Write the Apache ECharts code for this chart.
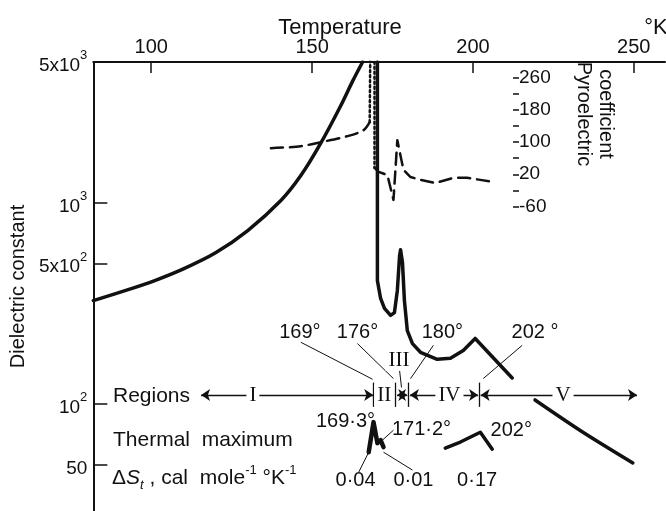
<!DOCTYPE html>
<html>
<head>
<meta charset="utf-8">
<script src="https://cdn.jsdelivr.net/npm/echarts@6/dist/echarts.min.js"></script>
<style>
  html, body { margin: 0; padding: 0; background: #fff; }
  #chart { width: 666px; height: 511px; }
</style>
</head>
<body>
<div id="chart"></div>
<script>
// axis ticks
const tempTicks = [100, 150, 200, 250]
const dielTicks = [50, 100, 500, 1000, 5000]
const pyroTicks = [-60, -20, 20, 60, 100, 140, 180, 220, 260]
const pyroLabels = [260, 180, 100, 20, -60]

// dielectric constant vs temperature (K)
const dielLow = [[82, 327], [93.8, 375], [100.9, 410], [110, 470], [120, 565], [130, 728], [140.3, 1026],
  [146.5, 1365], [152.7, 1977], [158.9, 3034], [162.6, 4018], [165.7, 5000]]
const dielHigh = [[170.3, 5000], [170.3, 411], [171.3, 335], [172.5, 299], [174.4, 276], [175.6, 285],
  [176.5, 367], [177.2, 547], [177.5, 585], [178.1, 505], [178.7, 327], [179.6, 232], [181.2, 200],
  [183.7, 181], [188.9, 167], [193, 169], [197, 185], [200.7, 212], [212.2, 135]]
const dielTail = [[219.3, 105], [234.2, 72.6], [249.7, 51.1]]

// pyroelectric coefficient
const pyroBelow = [[137.2, 85], [146.5, 90], [152.7, 100], [161, 115], [166, 130], [167.9, 150]]
const pyroJump = [[167.9, 150], [168.2, 420], [169.4, 420], [169.4, 36]]
const pyroAbove = [[169.4, 36], [170.7, 26], [173.4, 18], [175.3, -44], [176.5, 105], [178.4, 31],
  [180.6, 13], [183.7, 6], [188.3, -2], [193.9, 11], [198.2, 11], [202.3, 6], [206.3, 1]]

// thermal maxima (schematic, drawn on the same scales)
const thermal169 = [[167.6, 57.8], [169.1, 81.5], [170.3, 64.1], [171.3, 66.4], [172.2, 61.2]]
const thermal202 = [[191.4, 60.5], [196.1, 64.9], [202.3, 72.6], [206, 59.8]]

// regions row
const regionRow = 111
const regionBounds = [169, 176, 180, 202]
const regionArrows = [[115.5, 169], [176.4, 179.6], [180.4, 201.6], [202.4, 251]]
const regionNames = [['I', 131.6, 111], ['II', 172.4, 111], ['III', 177, 165], ['IV', 192.7, 111], ['V', 228, 111]]

// annotations: [text, T, value]
const tempNotes = [['169°', 146.2, 227], ['176°', 164.1, 227], ['180°', 190.5, 227], ['202 °', 219.3, 227]]
const thermalNotes = [['169·3°', 160.4, 82], ['171·2°', 184, 75], ['202°', 211.9, 74]]
const entropyNotes = [['0·04', 163.5, 41.6], ['0·01', 181.5, 41.6], ['0·17', 201.3, 41.6]]
const leaders = [
  [[146.5, 203], [168.8, 133]],
  [[164.1, 200], [175.3, 134]],
  [[187.7, 196], [180.6, 134]],
  [[215.3, 196], [203.2, 134]],
  [[177.2, 147], [177.8, 121]],
  [[175.3, 74.3], [171.9, 66.4]],
  [[164.5, 46], [167.6, 57.8]],
  [[181.2, 47.1], [172.2, 57.8]]
]

const FONT = '"Liberation Sans", Arial, sans-serif'
const SERIF = '"Liberation Serif", "Times New Roman", serif'
const INK = '#111'

const chart = echarts.init(document.getElementById('chart'))

function lineSeries(name, data, width, type, yIdx, smooth) {
  return {
    name, type: 'line', data, yAxisIndex: yIdx || 0, showSymbol: false, symbol: 'none',
    silent: true, animation: false, smooth: smooth || false,
    lineStyle: { color: INK, width, type: type || 'solid', cap: 'round', join: 'round' }
  }
}

function notes(name, items, font, size, bg) {
  return {
    name, type: 'scatter', symbolSize: 1, silent: true, animation: false, z: 6,
    itemStyle: { color: 'rgba(0,0,0,0)', opacity: 1 },
    data: items.map(d => ({ name: d[0], value: [d[1], d[2]] })),
    label: {
      show: true, position: 'inside', formatter: '{b}', color: INK, opacity: 1,
      textBorderWidth: 0, fontFamily: font, fontSize: size,
      backgroundColor: bg || 'transparent', padding: [0, 3]
    }
  }
}

const supLabel = {
  5000: '{a|5x10}{s|3}', 1000: '{a|10}{s|3}', 500: '{a|5x10}{s|2}', 100: '{a|10}{s|2}', 50: '{a|50}'
}

const markData = []
regionArrows.forEach(r => {
  markData.push([{ coord: [r[0], regionRow], symbol: 'arrow' }, { coord: [r[1], regionRow], symbol: 'arrow' }])
})
regionBounds.forEach(t => {
  markData.push([{ coord: [t, 128], symbol: 'none' }, { coord: [t, 97], symbol: 'none' }])
})
leaders.forEach(l => {
  markData.push([{ coord: l[0], symbol: 'none', lineStyle: { width: 1 } }, { coord: l[1], symbol: 'none' }])
})

const option = {
  animation: false,
  backgroundColor: '#fff',
  grid: { left: 92, right: 1, top: 62, bottom: 0, containLabel: false },
  xAxis: {
    type: 'value', position: 'top', min: 82, max: 259.7,
    axisLine: { onZero: false, lineStyle: { color: INK, width: 2 } },
    axisTick: { inside: true, length: 11, customValues: tempTicks, lineStyle: { color: INK, width: 1.5 } },
    axisLabel: { customValues: tempTicks, color: INK, fontFamily: FONT, fontSize: 20, margin: 5 },
    splitLine: { show: false }
  },
  yAxis: [
    {
      type: 'log', min: 29.5, max: 5000, position: 'left',
      name: 'Dielectric constant', nameLocation: 'middle', nameRotate: 90, nameGap: 64,
      nameTextStyle: { color: INK, fontFamily: FONT, fontSize: 20 },
      axisLine: { show: true, onZero: false, lineStyle: { color: INK, width: 2 } },
      axisTick: { inside: true, length: 14, customValues: dielTicks, lineStyle: { color: INK, width: 1.5 } },
      axisLabel: {
        customValues: dielTicks, margin: 6, color: INK,
        formatter: v => supLabel[Math.round(v)] || '',
        rich: {
          a: { fontFamily: FONT, fontSize: 19, color: INK, lineHeight: 26, verticalAlign: 'bottom' },
          s: { fontFamily: FONT, fontSize: 13, color: INK, lineHeight: 26, verticalAlign: 'top' }
        }
      },
      splitLine: { show: false }
    },
    {
      type: 'value', min: -820, max: 300, position: 'right', offset: -152,
      axisLine: { show: false, onZero: false },
      axisTick: { show: true, inside: false, length: 6, customValues: pyroTicks, lineStyle: { color: INK, width: 1.5 } },
      axisLabel: { customValues: pyroLabels, color: INK, fontFamily: FONT, fontSize: 19, margin: 6 },
      splitLine: { show: false }
    }
  ],
  graphic: [
    { type: 'text', x: 340, y: 28, style: { text: 'Temperature', font: '22px ' + FONT, fill: INK, align: 'center', verticalAlign: 'middle' } },
    { type: 'text', x: 656, y: 28, style: { text: '°K', font: '22px ' + FONT, fill: INK, align: 'center', verticalAlign: 'middle' } },
    { type: 'text', x: 584, y: 114, rotation: -Math.PI / 2, style: { text: 'Pyroelectric', font: '20px ' + FONT, fill: INK, align: 'center', verticalAlign: 'middle' } },
    { type: 'text', x: 606, y: 114, rotation: -Math.PI / 2, style: { text: 'coefficient', font: '20px ' + FONT, fill: INK, align: 'center', verticalAlign: 'middle' } },
    { type: 'text', x: 113, y: 396, style: { text: 'Regions', font: '21px ' + FONT, fill: INK, align: 'left', verticalAlign: 'middle' } },
    { type: 'text', x: 113, y: 440, style: { text: 'Thermal  maximum', font: '21px ' + FONT, fill: INK, align: 'left', verticalAlign: 'middle' } },
    {
      type: 'text', x: 112, y: 478,
      style: {
        text: '{d|Δ}{i|S}{sub|t}{d| , cal  mole}{sup|-1}{d| °K}{sup|-1}',
        align: 'left', verticalAlign: 'middle',
        rich: {
          d: { fontFamily: FONT, fontSize: 21, fill: INK, lineHeight: 28, verticalAlign: 'middle' },
          i: { fontFamily: FONT, fontSize: 21, fontStyle: 'italic', fill: INK, lineHeight: 28, verticalAlign: 'middle' },
          sub: { fontFamily: FONT, fontSize: 13, fontStyle: 'italic', fill: INK, lineHeight: 28, verticalAlign: 'bottom' },
          sup: { fontFamily: FONT, fontSize: 13, fill: INK, lineHeight: 28, verticalAlign: 'top' }
        }
      }
    }
  ],
  series: [
    lineSeries('dielectric low', dielLow, 3.5, null, 0, 0.3),
    lineSeries('dielectric high', dielHigh, 3.5),
    lineSeries('dielectric tail', dielTail, 3.5, null, 0, 0.3),
    lineSeries('pyro below', pyroBelow, 2.5, [12, 7], 1, 0.3),
    lineSeries('pyro jump', pyroJump, 2.5, [2, 3], 1),
    lineSeries('pyro above', pyroAbove, 2.5, [12, 7], 1),
    lineSeries('thermal 169', thermal169, 4.5),
    lineSeries('thermal 202', thermal202, 3.5),
    {
      name: 'regions', type: 'line', data: [], silent: true, animation: false,
      markLine: {
        silent: true, animation: false, symbolSize: 9,
        label: { show: false },
        lineStyle: { color: INK, width: 1.3, type: 'solid' },
        data: markData
      }
    },
    notes('region names', regionNames, SERIF, 21, '#fff'),
    notes('temp notes', tempNotes, FONT, 20),
    notes('thermal notes', thermalNotes, FONT, 20),
    notes('entropy notes', entropyNotes, FONT, 20)
  ]
}

chart.setOption(option)
window.addEventListener('resize', () => chart.resize())
</script>
</body>
</html>
